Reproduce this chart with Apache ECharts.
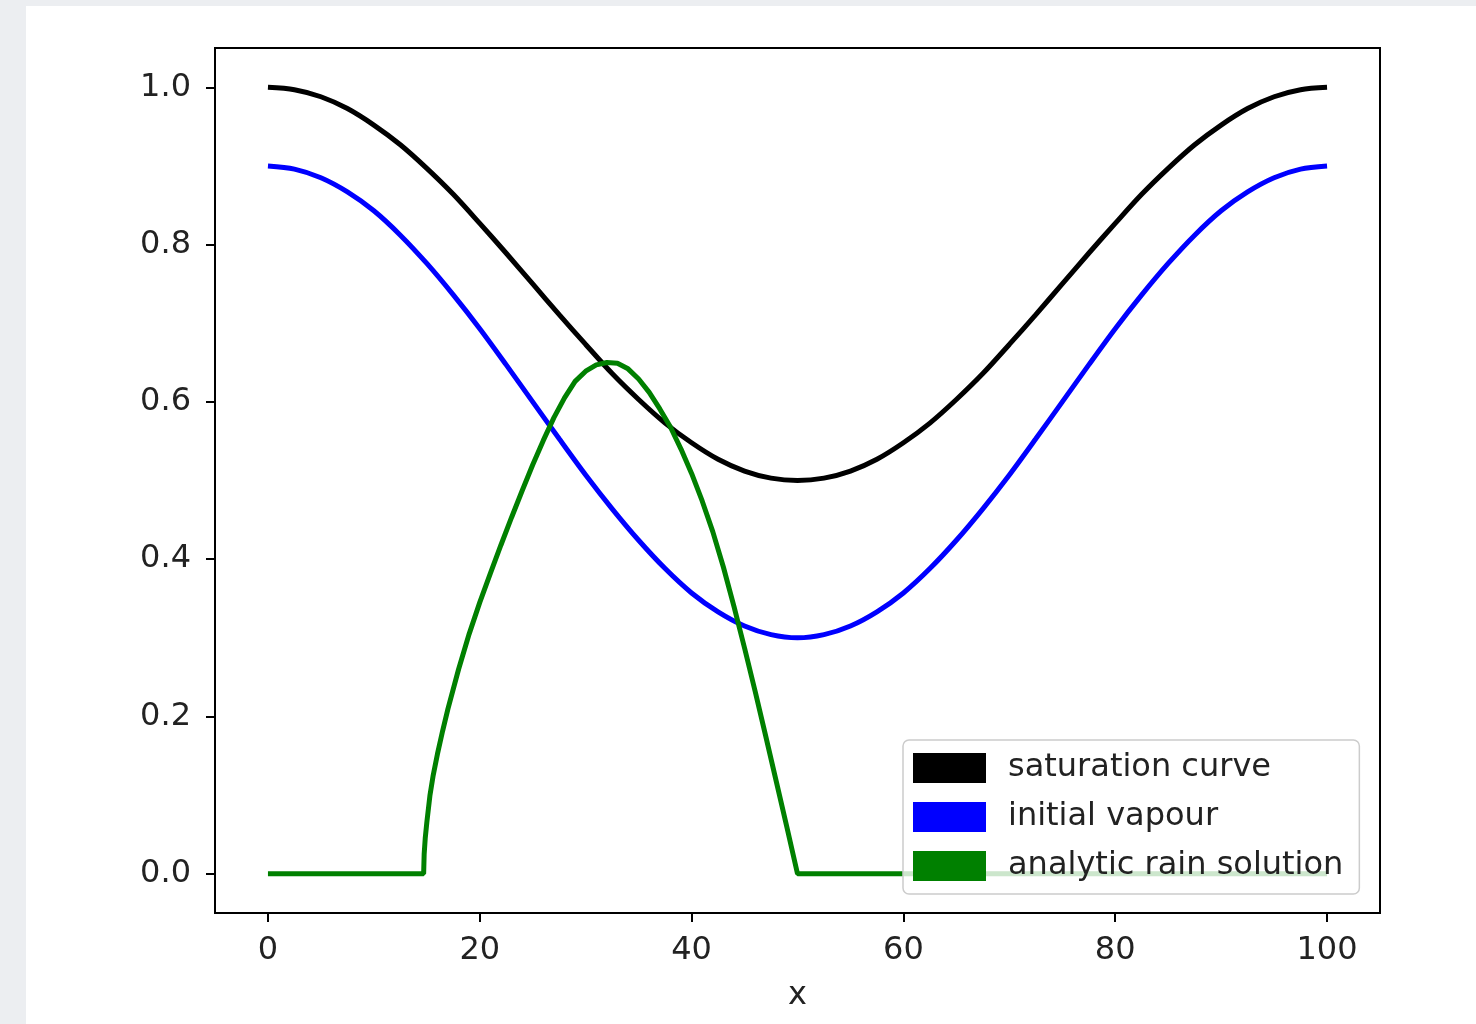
<!DOCTYPE html>
<html style="height: 100%">
<head>
<meta charset="utf-8">
<script src="https://cdn.jsdelivr.net/npm/echarts@6/dist/echarts.min.js"></script>
</head>
<body style="height: 100%; margin: 0; background: #eceef1">
<div style="position: absolute; left: 26px; top: 6px; right: 0; bottom: 0; background: #fff"></div>
<div id="container" style="position: absolute; left: 0; top: 0; width: 1476px; height: 1024px"></div>
<script type="text/javascript">
// values
var xs = [0, 2.5, 5, 7.5, 10, 12.5, 15, 17.5, 20, 22.5, 25, 27.5, 30, 32.5, 35, 37.5, 40, 42.5, 45, 47.5, 50,
          52.5, 55, 57.5, 60, 62.5, 65, 67.5, 70, 72.5, 75, 77.5, 80, 82.5, 85, 87.5, 90, 92.5, 95, 97.5, 100];
var saturation = [1.000, 0.997, 0.988, 0.973, 0.952, 0.927, 0.897, 0.864, 0.827, 0.789, 0.750,
                  0.711, 0.673, 0.636, 0.603, 0.573, 0.548, 0.527, 0.512, 0.503, 0.500,
                  0.503, 0.512, 0.527, 0.548, 0.573, 0.603, 0.636, 0.673, 0.711, 0.750,
                  0.789, 0.827, 0.864, 0.897, 0.927, 0.952, 0.973, 0.988, 0.997, 1.000];
var vapour = [0.900, 0.896, 0.885, 0.867, 0.843, 0.812, 0.776, 0.736, 0.693, 0.647, 0.600,
              0.553, 0.507, 0.464, 0.424, 0.388, 0.357, 0.333, 0.315, 0.304, 0.300,
              0.304, 0.315, 0.333, 0.357, 0.388, 0.424, 0.464, 0.507, 0.553, 0.600,
              0.647, 0.693, 0.736, 0.776, 0.812, 0.843, 0.867, 0.885, 0.896, 0.900];

var rainX = [0, 14.7, 14.75, 14.85, 15.0, 15.3, 15.6, 16, 16.5, 17, 18, 19, 20, 21, 22, 23, 24, 25, 26, 27, 28, 29,
             30, 31, 32, 33, 34, 35, 36, 37, 38, 39, 40, 41, 42, 43, 44, 45, 46, 47, 48, 49, 50, 100];
var rain = [0, 0, 0.025, 0.045, 0.065, 0.10, 0.125, 0.152, 0.182, 0.21, 0.26, 0.305, 0.345, 0.382, 0.418, 0.453, 0.487, 0.52, 0.551, 0.58, 0.605, 0.626,
            0.639, 0.647, 0.650, 0.649, 0.642, 0.629, 0.612, 0.591, 0.568, 0.540, 0.509, 0.474, 0.435, 0.39, 0.34, 0.287, 0.232, 0.175, 0.117, 0.059, 0, 0];

var xTicks = [0, 20, 40, 60, 80, 100];
var yTicks = [0, 0.2, 0.4, 0.6, 0.8, 1.0];

function pairs(a, b) {
    var out = [];
    for (var i = 0; i < a.length; i++) out.push([a[i], b[i]]);
    return out;
}

var font = 'DejaVu Sans';
var dom = document.getElementById('container');
var myChart = echarts.init(dom);

var option = {
    animation: false,
    grid: {
        left: 215, top: 48, right: 96, bottom: 111,
        show: true, borderColor: '#000', borderWidth: 2
    },
    legend: {
        orient: 'vertical',
        left: 903, top: 740,
        padding: [12, 16, 12, 10],
        itemWidth: 73, itemHeight: 30, itemGap: 17,
        backgroundColor: 'rgba(255,255,255,0.8)',
        borderColor: '#cccccc', borderWidth: 1.5, borderRadius: 6,
        textStyle: { fontFamily: font, fontSize: 32, color: '#222', padding: [0, 0, 0, 17] },
        data: [
            { name: 'saturation curve', icon: 'rect', itemStyle: { color: '#000000' } },
            { name: 'initial vapour', icon: 'rect', itemStyle: { color: '#0000ff' } },
            { name: 'analytic rain solution', icon: 'rect', itemStyle: { color: '#008000' } }
        ]
    },
    xAxis: {
        type: 'value', min: -5, max: 105,
        name: 'x', nameLocation: 'middle', nameGap: 67,
        nameTextStyle: { fontFamily: font, fontSize: 32, color: '#222' },
        splitLine: { show: false },
        axisLine: { onZero: false, lineStyle: { color: '#000', width: 2 } },
        axisTick: { customValues: xTicks, length: 9, lineStyle: { color: '#000', width: 2 } },
        axisLabel: { customValues: xTicks, margin: 22, fontFamily: font, fontSize: 32, color: '#222' }
    },
    yAxis: {
        type: 'value', min: -0.05, max: 1.05,
        splitLine: { show: false },
        axisLine: { show: true, onZero: false, lineStyle: { color: '#000', width: 2 } },
        axisTick: { show: true, customValues: yTicks, length: 9, lineStyle: { color: '#000', width: 2 } },
        axisLabel: {
            customValues: yTicks, margin: 24, fontFamily: font, fontSize: 32, color: '#222',
            formatter: function (v) { return v.toFixed(1); }
        }
    },
    series: [
        {
            name: 'saturation curve', type: 'line', showSymbol: false, smooth: 0.3,
            lineStyle: { color: '#000000', width: 5 }, itemStyle: { color: '#000000' },
            data: pairs(xs, saturation)
        },
        {
            name: 'initial vapour', type: 'line', showSymbol: false, smooth: 0.3,
            lineStyle: { color: '#0000ff', width: 5 }, itemStyle: { color: '#0000ff' },
            data: pairs(xs, vapour)
        },
        {
            name: 'analytic rain solution', type: 'line', showSymbol: false,
            lineStyle: { color: '#008000', width: 5 }, itemStyle: { color: '#008000' },
            data: pairs(rainX, rain)
        }
    ]
};

myChart.setOption(option);
</script>
</body>
</html>
